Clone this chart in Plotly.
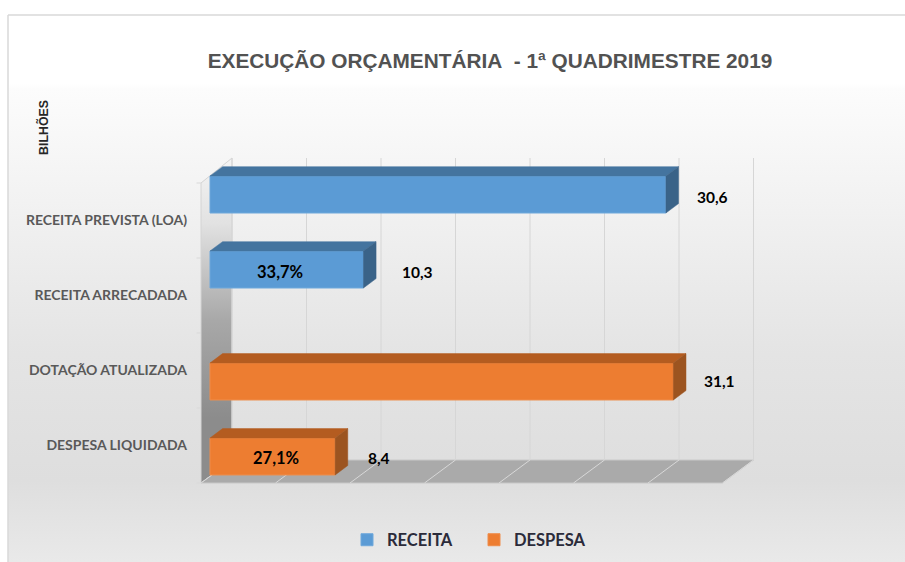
import plotly.graph_objects as go

categories = ["RECEITA PREVISTA (LOA)", "RECEITA ARRECADADA", "DOTAÇÃO ATUALIZADA", "DESPESA LIQUIDADA"]
receita_values = [30.6, 10.3]
despesa_values = [31.1, 8.4]
receita_pct = ["", "33,7%"]
despesa_pct = ["", "27,1%"]
chart_title = "EXECUÇÃO ORÇAMENTÁRIA\u00a0\u00a0- 1ª QUADRIMESTRE 2019"
grid_ticks = [0, 5, 10, 15, 20, 25, 30, 35]

W, H = 905, 562
PX_PER_UNIT = 14.9   # horizontal pixels per value unit
PX_PER_CAT = 75.0    # vertical pixels per category
X0_PX, Y0_PX = 210.0, 213.0   # pixel position of value 0 / category 0
BAR_H = 0.493
DX = 12.6 / PX_PER_UNIT
DY = 9.4 / PX_PER_CAT
LABEL_SHIFT = 7.5 / PX_PER_CAT


def ux(p):
    return (p - X0_PX) / PX_PER_UNIT


def uy(p):
    return (p - Y0_PX) / PX_PER_CAT


XR = [ux(0), ux(W)]
YR = [uy(H), uy(0)]

WALL_L, WALL_R = ux(201), ux(232)
FLOOR_F, FLOOR_B = uy(483), uy(460)
WALL_TOP_F, WALL_TOP_B = uy(183), uy(158)
GRID_OFF = WALL_R

fig = go.Figure()

# background panel
fig.add_trace(go.Scatter(
    x=[ux(8), ux(W + 5), ux(W + 5), ux(8), ux(8)], y=[uy(15), uy(15), uy(H + 5), uy(H + 5), uy(15)],
    mode="lines", fill="toself", line=dict(color="#d9d9d9", width=1.5), hoverinfo="skip", showlegend=False,
    fillgradient=dict(type="vertical", start=uy(15), stop=uy(H),
                      colorscale=[[0, "#ffffff"], [0.125, "#ffffff"], [0.135, "#fcfcfc"],
                                  [0.30, "#f4f4f4"], [0.62, "#e4e4e4"], [0.85, "#dedede"], [1, "#e9e9e9"]]),
    xaxis="x", yaxis="y"))

# side wall
fig.add_trace(go.Scatter(
    x=[WALL_L, WALL_R, WALL_R, WALL_L, WALL_L], y=[WALL_TOP_F, WALL_TOP_B, FLOOR_B, FLOOR_F, WALL_TOP_F],
    mode="lines", fill="toself", line=dict(color="#d4d4d4", width=1), hoverinfo="skip", showlegend=False,
    fillgradient=dict(type="vertical", start=uy(158), stop=uy(483),
                      colorscale=[[0, "#f4f4f4"], [0.2, "#e2e2e2"], [0.5, "#a8a8a8"], [0.8, "#8c8c8c"], [1, "#8c8c8c"]]),
    xaxis="x", yaxis="y"))

# floor
fig.add_trace(go.Scatter(
    x=[WALL_L, WALL_R, WALL_R + 35, WALL_L + 35, WALL_L], y=[FLOOR_F, FLOOR_B, FLOOR_B, FLOOR_F, FLOOR_F],
    mode="lines", fill="toself", line=dict(color="#c8c8c8", width=1), fillcolor="#aaaaaa",
    hoverinfo="skip", showlegend=False, xaxis="x", yaxis="y"))

# gridlines on the back wall and across the floor
for t in grid_ticks:
    fig.add_trace(go.Scatter(
        x=[GRID_OFF + t, GRID_OFF + t], y=[WALL_TOP_B, FLOOR_B], mode="lines",
        line=dict(color="#d6d6d6", width=1), hoverinfo="skip", showlegend=False, xaxis="x", yaxis="y"))
    fig.add_trace(go.Scatter(
        x=[GRID_OFF + t, WALL_L + t], y=[FLOOR_B, FLOOR_F], mode="lines",
        line=dict(color="#d8d8d8", width=1), hoverinfo="skip", showlegend=False, xaxis="x", yaxis="y"))

# tick stubs left of the wall
for i in range(len(categories) + 1):
    fig.add_trace(go.Scatter(
        x=[WALL_L - 0.3, WALL_L], y=[uy(183 + PX_PER_CAT * i)] * 2, mode="lines",
        line=dict(color="#d9d9d9", width=1), hoverinfo="skip", showlegend=False, xaxis="x", yaxis="y"))


def faces(vals, centres):
    tx, ty, sx, sy = [], [], [], []
    for v, c in zip(vals, centres):
        top, bot = c - BAR_H / 2, c + BAR_H / 2
        tx += [0, v, v + DX, DX, 0, None]
        ty += [top, top, top - DY, top - DY, top, None]
        sx += [v, v + DX, v + DX, v, v, None]
        sy += [top, top - DY, bot - DY, bot, top, None]
    return tx, ty, sx, sy


# each series fills one half of its category band
receita_pos = [i - BAR_H / 2 for i in (0, 1)]
despesa_pos = [i + BAR_H / 2 for i in (2, 3)]

# front faces
fig.add_trace(go.Bar(name="RECEITA", y=receita_pos, x=receita_values, orientation="h", width=BAR_H,
                     marker=dict(color="#5b9bd5", line=dict(color="#6fa8db", width=1)),
                     xaxis="x2", yaxis="y2", hoverinfo="skip"))
fig.add_trace(go.Bar(name="DESPESA", y=despesa_pos, x=despesa_values, orientation="h", width=BAR_H,
                     marker=dict(color="#ed7d31", line=dict(color="#ef8c4a", width=1)),
                     xaxis="x2", yaxis="y2", hoverinfo="skip"))

# 3-D faces derived from the same values
for vals, pos, ctop, cside in [
    (receita_values, receita_pos, "#44749f", "#3a6388"),
    (despesa_values, despesa_pos, "#b45c20", "#9c5420"),
]:
    tx, ty, sx, sy = faces(vals, pos)
    fig.add_trace(go.Scatter(x=tx, y=ty, mode="lines", fill="toself", fillcolor=ctop, line=dict(color=ctop, width=0.5),
                             hoverinfo="skip", showlegend=False, xaxis="x2", yaxis="y2"))
    fig.add_trace(go.Scatter(x=sx, y=sy, mode="lines", fill="toself", fillcolor=cside, line=dict(color=cside, width=0.5),
                             hoverinfo="skip", showlegend=False, xaxis="x2", yaxis="y2"))

# value labels
all_vals = receita_values + despesa_values
all_pos = receita_pos + despesa_pos
all_pct = receita_pct + despesa_pct
label_shift_x = [47, 54, 46, 44]
label_shift_y = [2, 2.5, 0, 2]
pct_shift_x = [0, -7, 0, 3]
annotations = []
for i, v in enumerate(all_vals):
    annotations.append(dict(x=v, y=all_pos[i], xref="x2", yref="y2", xshift=label_shift_x[i], yshift=-label_shift_y[i],
                            text=f"{v:.1f}".replace(".", ","), showarrow=False,
                            font=dict(family="Lato", size=15.5, color="#000000", weight="bold")))
    if all_pct[i]:
        annotations.append(dict(x=v / 2, y=all_pos[i], xref="x2", yref="y2", xshift=pct_shift_x[i], yshift=-2,
                                text=all_pct[i], showarrow=False,
                                font=dict(family="Lato", size=16.5, color="#000000", weight="bold")))
annotations.append(dict(x=44 / W, y=1 - 128 / H, xref="paper", yref="paper", xanchor="center", yanchor="middle",
                        text="BILHÕES", textangle=-90, showarrow=False,
                        font=dict(family="Liberation Sans", size=12.4, color="#262626", weight="bold")))

fig.update_layout(
    width=W, height=H, margin=dict(l=0, r=0, t=0, b=0), autosize=False,
    paper_bgcolor="#ffffff", plot_bgcolor="rgba(0,0,0,0)",
    barmode="overlay",
    title=dict(text=chart_title, x=490 / W, y=1 - 61 / H, xanchor="center", yanchor="middle",
               font=dict(family="Liberation Sans", size=20.8, color="#525252", weight="bold")),
    xaxis=dict(domain=[0, 1], range=XR, visible=False, fixedrange=True),
    yaxis=dict(domain=[0, 1], range=YR, visible=False, fixedrange=True),
    xaxis2=dict(domain=[0, 1], range=XR, visible=False, anchor="y2", fixedrange=True),
    yaxis2=dict(domain=[0, 1], range=YR, anchor="free", position=201 / W, fixedrange=True,
                tickmode="array", tickvals=[i + LABEL_SHIFT for i in range(len(categories))], ticktext=categories,
                ticks="", showgrid=False, zeroline=False, showline=False, ticklabelstandoff=14,
                tickfont=dict(family="Lato", size=14, color="#595959", weight="bold")),
    legend=dict(orientation="h", x=347 / W, y=1 - 540 / H, xanchor="left", yanchor="middle",
                bgcolor="rgba(0,0,0,0)", font=dict(family="Lato", size=16.5, color="#2b2b3a", weight="bold"),
                entrywidth=82, entrywidthmode="pixels",
                itemclick=False, itemdoubleclick=False, traceorder="normal"),
    annotations=annotations,
)

fig.write_html("out.html", config={"displayModeBar": False},
               post_script="document.body.style.margin='0';")
